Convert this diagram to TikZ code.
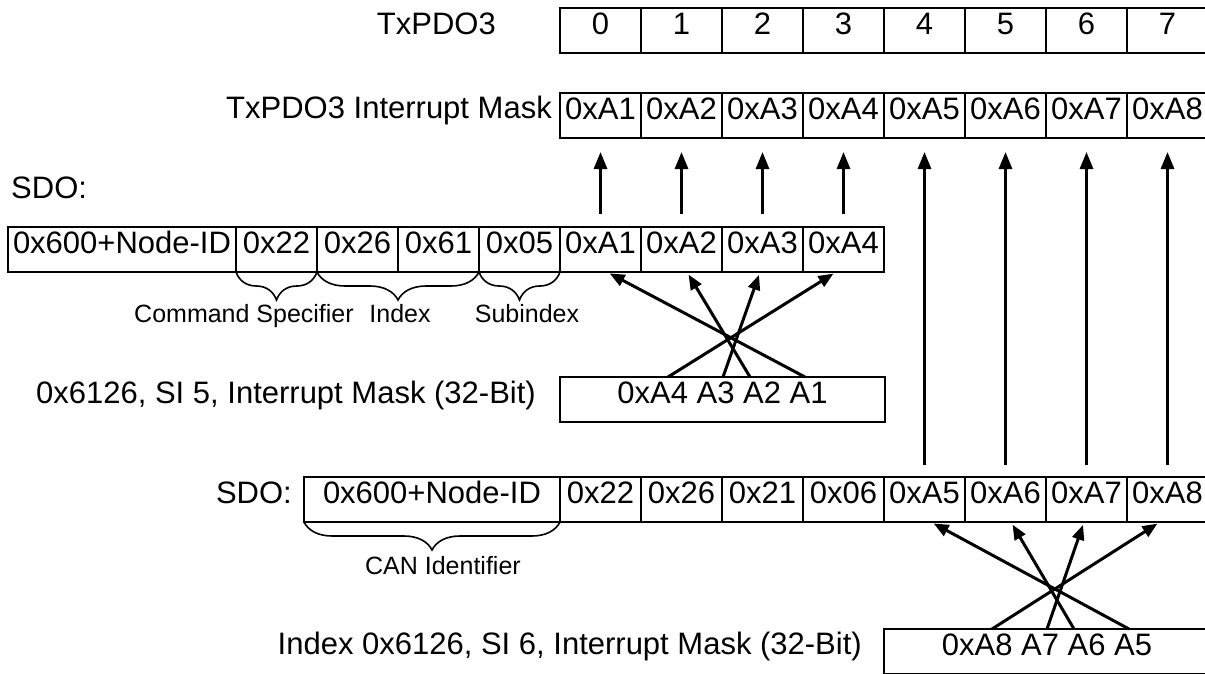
\documentclass[tikz,border=0pt]{standalone}
\usepackage{fontspec}
\setmainfont{Liberation Sans}
\usetikzlibrary{arrows.meta,decorations.pathreplacing}

\tikzset{
        cell/.style={draw, line width=2pt, outer sep=0pt, inner sep=0pt, anchor=north west,
                minimum width=81pt, minimum height=45pt,
                font=\fontsize{31}{37}\selectfont, text height=0.72em, text depth=0pt},
        lbl/.style={inner sep=0pt, font=\fontsize{31}{37}\selectfont, text height=0.72em, text depth=0pt},
        small/.style={inner sep=0pt, font=\fontsize{25}{30}\selectfont, text height=0.72em, text depth=0pt},
        uparr/.style={line width=3pt, -{Triangle[length=17pt,width=13pt]}},
        crossarr/.style={line width=3pt, -{Triangle[length=15pt,width=12pt]}, shorten >=3pt},
        brc/.style={line width=1.6pt, decorate, decoration={brace, mirror, amplitude=28pt}}
}

\begin{document}
\begin{tikzpicture}[x=1pt, y=-1pt]
        \path[use as bounding box, fill=white] (0,0) rectangle (1205,673);

        % TxPDO3 and its mask
        \node[lbl, anchor=east] (tx) at (496,31) {TxPDO3};
        \node[lbl, anchor=east] (mask) at (552,115) {TxPDO3 Interrupt Mask};
        \foreach \i [count=\n] in {0,...,7} {
                \node[cell] (t\i) at ({560+81*\i},8) {\i};
                \node[cell] (m\i) at ({560+81*\i},93) {0xA\n};
        }

        % first SDO
        \node[lbl, anchor=west] (sdo1) at (11,195) {SDO:};
        \node[cell, minimum width=228pt] (s1id) at (8,227) {0x600+Node-ID};
        \foreach \t [count=\i from 0] in {0x22,0x26,0x61,0x05,0xA1,0xA2,0xA3,0xA4}
                \node[cell] (s1c\i) at ({236+81*\i},227) {\t};

        \draw[brc] (s1c0.south west) -- (s1c0.south east);
        \draw[brc] (s1c1.south west) -- (s1c2.south east);
        \draw[brc] (s1c3.south west) -- (s1c3.south east);
        \node[small] (cs) at (244,319) {Command Specifier};
        \node[small] (ix) at (400,319) {Index};
        \node[small] (si) at (527,319) {Subindex};

        \node[lbl, anchor=east] (si5) at (536,400) {0x6126, SI 5, Interrupt Mask (32-Bit)};
        \node[cell, minimum width=325pt] (mk1) at (560,377) {0xA4 A3 A2 A1};

        % second SDO
        \node[lbl, anchor=east] (sdo2) at (292,500) {SDO:};
        \node[cell, minimum width=256pt] (s2id) at (304,477) {0x600+Node-ID};
        \foreach \t [count=\i from 0] in {0x22,0x26,0x21,0x06,0xA5,0xA6,0xA7,0xA8}
                \node[cell] (s2c\i) at ({560+81*\i},477) {\t};
        \draw[brc] (s2id.south west) -- (s2id.south east);
        \node[small] (can) at (443,571) {CAN Identifier};

        \node[lbl, anchor=east] (si6) at (862,651) {Index 0x6126, SI 6, Interrupt Mask (32-Bit)};
        \node[cell, minimum width=326pt] (mk2) at (884,629) {0xA8 A7 A6 A5};

        % up into the mask
        \foreach \i/\j in {0/4,1/5,2/6,3/7}
                \draw[uparr, shorten <=13pt, shorten >=14pt] (s1c\j.north) -- (m\i.south);
        \foreach \i in {4,...,7}
                \draw[uparr, shorten <=12pt, shorten >=14pt] (s2c\i.north) -- (m\i.south);

        % byte order swap
        \foreach \dx/\c/\sh in {108/7/-7.5, 163/6/-2.5, 190/5/5.5, 245/4/6.5} {
                \draw[crossarr] ([xshift=\dx pt]mk1.north west) -- ([xshift=\sh pt]s1c\c.south);
                \draw[crossarr] ([xshift=\dx pt]mk2.north west) -- ([xshift=\sh pt]s2c\c.south);
        }
\end{tikzpicture}
\end{document}
